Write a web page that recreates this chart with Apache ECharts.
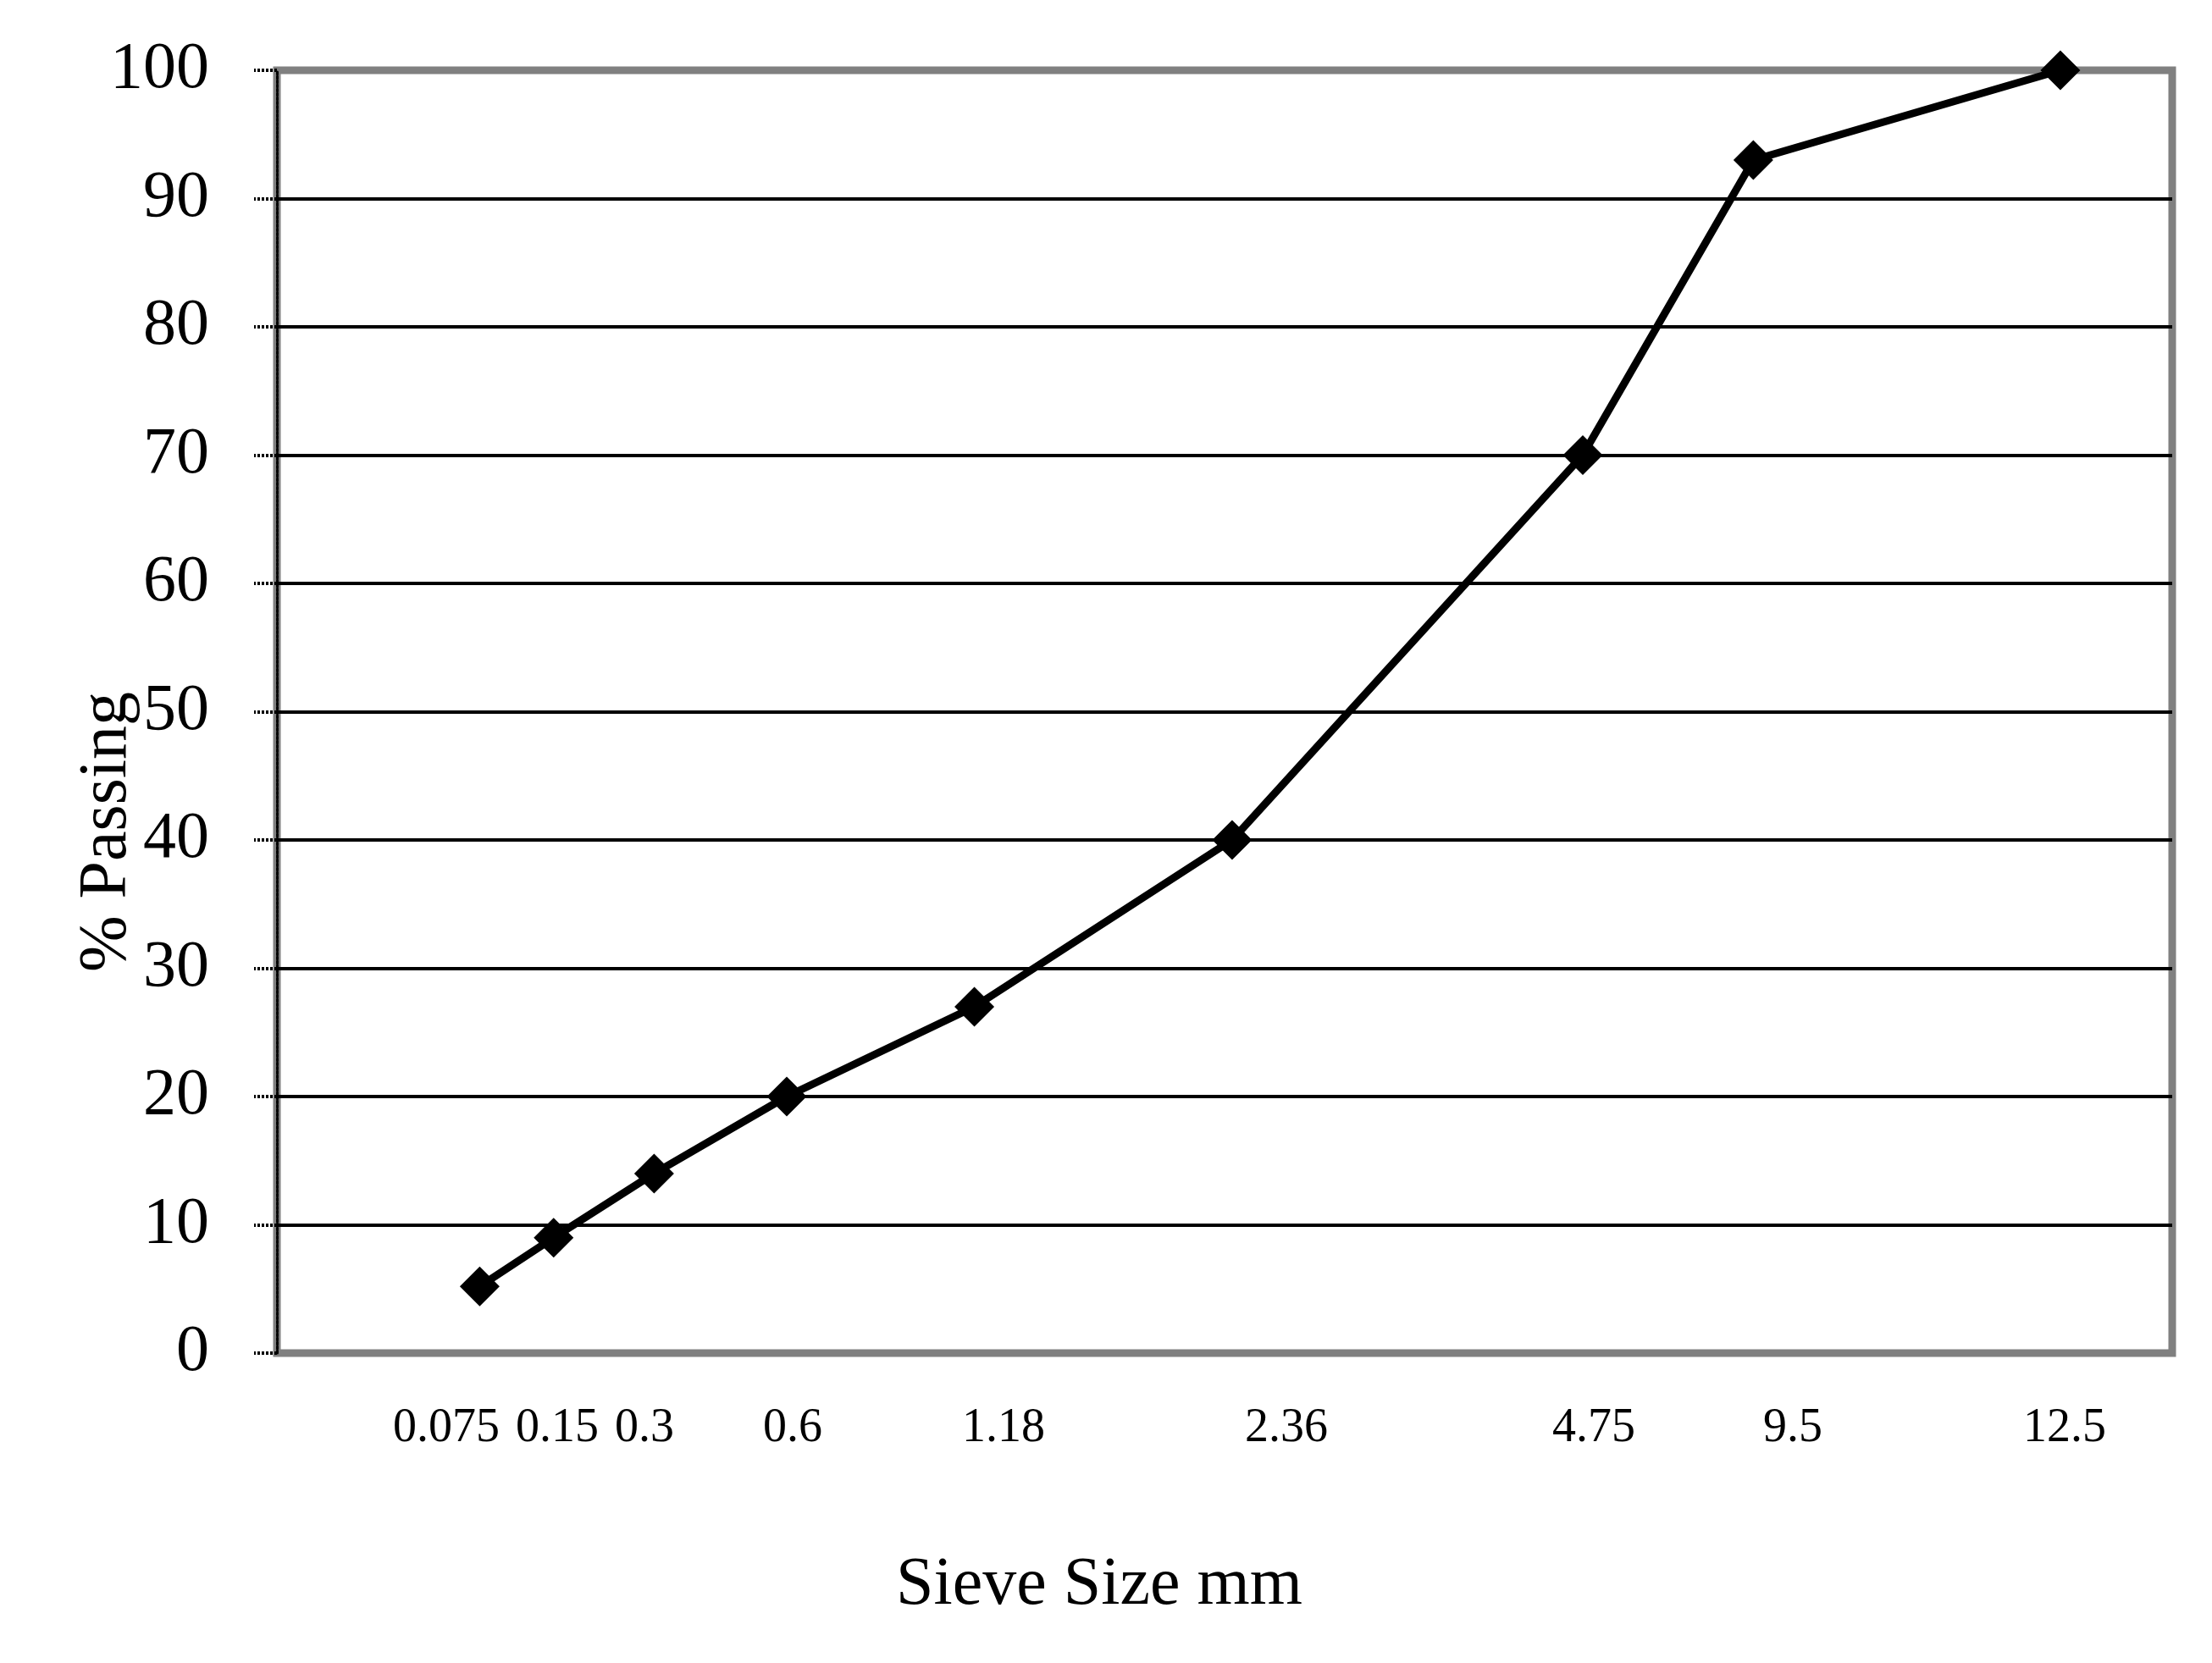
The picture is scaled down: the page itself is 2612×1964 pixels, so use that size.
<!DOCTYPE html>
<html>
<head>
<meta charset="utf-8">
<script src="https://cdn.jsdelivr.net/npm/echarts@6/dist/echarts.min.js"></script>
<style>
  html, body { margin: 0; padding: 0; background: #ffffff; }
  #chart { width: 2612px; height: 1964px; }
</style>
</head>
<body>
<div id="chart"></div>
<script>
// Sieve sizes (tick label text)
const sieveLabels = ['0.075', '0.15', '0.3', '0.6', '1.18', '2.36', '4.75', '9.5', '12.5'];
// Horizontal location of each label along the x axis (0-100 scale of plot width)
const labelPos = [8.94, 14.79, 19.39, 27.21, 38.34, 53.26, 69.48, 79.98, 94.33];
// Horizontal location of each plotted point (0-100 scale of plot width)
const pointPos = [10.7, 14.6, 19.9, 26.9, 36.8, 50.4, 68.9, 77.9, 94.1];
// % passing values
const passing = [5.2, 9, 14, 20, 27, 40, 70, 93, 100];

const seriesData = pointPos.map((x, i) => [x, passing[i]]);
const FONT = 'Liberation Serif';

const chart = echarts.init(document.getElementById('chart'), null, { renderer: 'canvas' });
chart.setOption({
  backgroundColor: '#ffffff',
  animation: false,
  grid: {
    left: 327, right: 47, top: 83, bottom: 366,
    show: true,
    borderColor: '#808080',
    borderWidth: 9,
    backgroundColor: 'transparent',
    z: 0
  },
  xAxis: {
    type: 'value',
    min: 0,
    max: 100,
    z: 1,
    axisLine: { show: false },
    axisTick: { show: false },
    splitLine: { show: false },
    axisLabel: {
      customValues: labelPos,
      margin: 61,
      fontFamily: FONT,
      fontSize: 56,
      color: '#000000',
      formatter: function (v) {
        for (let i = 0; i < labelPos.length; i++) {
          if (Math.abs(labelPos[i] - v) < 1e-6) return sieveLabels[i];
        }
        return '';
      }
    },
    name: 'Sieve Size mm',
    nameLocation: 'middle',
    nameGap: 235,
    nameMoveOverlap: false,
    nameTextStyle: {
      fontFamily: FONT,
      fontSize: 80,
      color: '#000000',
      padding: [0, 296, 0, 0]
    }
  },
  yAxis: {
    type: 'value',
    min: 0,
    max: 100,
    interval: 10,
    z: 1,
    axisLine: {
      show: true,
      lineStyle: { color: '#000000', width: 3, type: [3, 2] }
    },
    axisTick: {
      show: true,
      inside: false,
      length: 27,
      lineStyle: { color: '#000000', width: 4, type: [3, 2] }
    },
    splitLine: {
      show: true,
      showMinLine: false,
      showMaxLine: false,
      lineStyle: { color: '#000000', width: 4 }
    },
    axisLabel: {
      margin: 80,
      fontFamily: FONT,
      fontSize: 78,
      color: '#000000',
      padding: [4, 0, 0, 0]
    },
    name: '% Passing',
    nameLocation: 'middle',
    nameRotate: 90,
    nameGap: 160,
    nameMoveOverlap: false,
    nameTextStyle: {
      fontFamily: FONT,
      fontSize: 80,
      color: '#000000',
      padding: [0, 284, 0, 0]
    }
  },
  series: [{
    type: 'line',
    data: seriesData,
    z: 3,
    symbol: 'diamond',
    symbolSize: 47,
    showAllSymbol: true,
    lineStyle: { color: '#000000', width: 9 },
    itemStyle: { color: '#000000' },
    clip: false
  }]
});
</script>
</body>
</html>
